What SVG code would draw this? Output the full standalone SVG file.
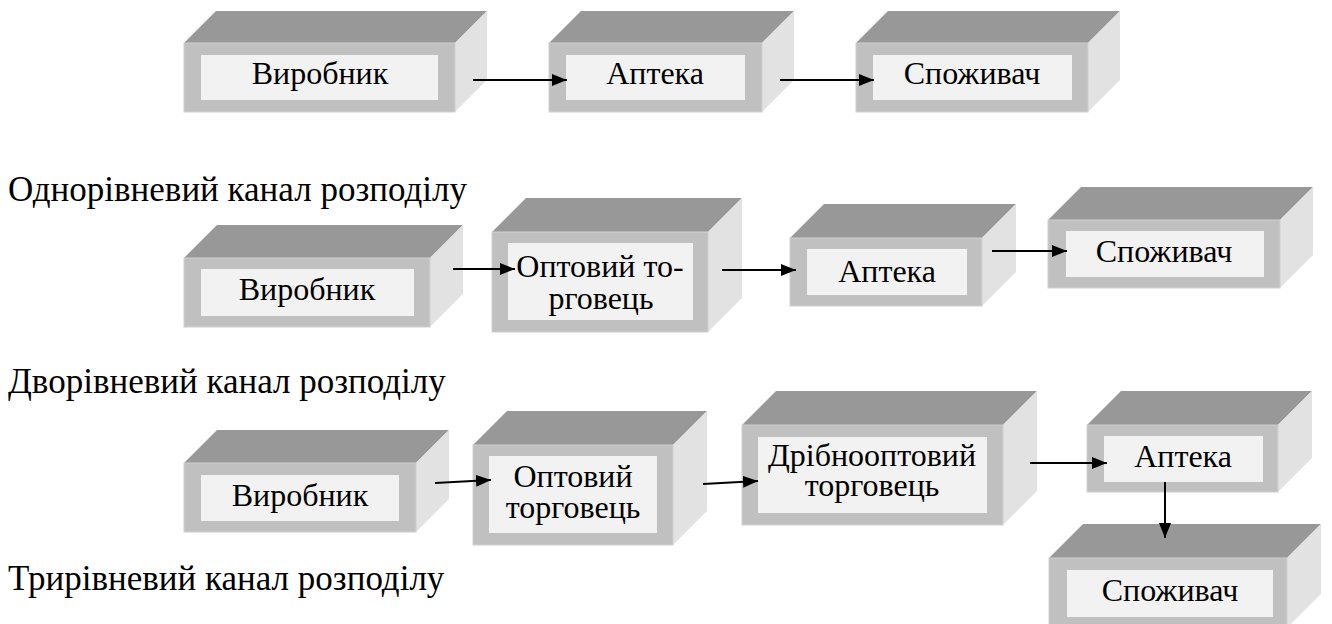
<svg xmlns="http://www.w3.org/2000/svg" width="1332" height="624" viewBox="0 0 1332 624" xml:lang="uk" lang="uk">
<defs>
<style>
.top{fill:#989898}
.side{fill:#e2e2e2}
.front{fill:#c0c0c0;stroke:#d0d0d0;stroke-width:1}
.inner{fill:#f2f2f2}
.c{stroke:#000;stroke-width:2;fill:none;marker-end:url(#ah)}
</style>
<marker id="ah" markerUnits="userSpaceOnUse" markerWidth="15" markerHeight="12" refX="15" refY="6" orient="auto">
<path d="M0,0 L15,6 L0,12 z" fill="#000"/>
</marker>
</defs>
<rect width="1332" height="624" fill="#fff"/>

<g id="labels">
<text font-family="Times New Roman" font-size="35" x="8" y="201">Однорівневий канал розподілу</text>
<text font-family="Times New Roman" font-size="35" x="8" y="393">Дворівневий канал розподілу</text>
<text font-family="Times New Roman" font-size="35" x="8" y="590">Трирівневий канал розподілу</text>
</g>

<g id="r1-vyrobnyk">
<polygon class="top" points="184,43 216,11 487,11 455,43"/>
<polygon class="side" points="455,43 487,11 487,80 455,112"/>
<rect class="front" x="184" y="43" width="271" height="69"/>
<rect class="inner" x="201" y="55" width="237" height="45"/>
<text font-family="Times New Roman" font-size="32" text-anchor="middle" x="320" y="84">Виробник</text>
</g>
<g id="r1-apteka">
<polygon class="top" points="549,43 581,11 794,11 762,43"/>
<polygon class="side" points="762,43 794,11 794,80 762,112"/>
<rect class="front" x="549" y="43" width="213" height="69"/>
<rect class="inner" x="566" y="55" width="179" height="45"/>
<text font-family="Times New Roman" font-size="32" text-anchor="middle" x="655" y="84">Аптека</text>
</g>
<g id="r1-spozhyvach">
<polygon class="top" points="856,43 888,11 1120,11 1088,43"/>
<polygon class="side" points="1088,43 1120,11 1120,80 1088,112"/>
<rect class="front" x="856" y="43" width="232" height="69"/>
<rect class="inner" x="873" y="55" width="199" height="45"/>
<text font-family="Times New Roman" font-size="32" text-anchor="middle" x="972" y="84">Споживач</text>
</g>

<g id="r2-vyrobnyk">
<polygon class="top" points="184,258 217,225 463,225 430,258"/>
<polygon class="side" points="430,258 463,225 463,294 430,327"/>
<rect class="front" x="184" y="258" width="246" height="69"/>
<rect class="inner" x="201" y="269" width="213" height="47"/>
<text font-family="Times New Roman" font-size="32" text-anchor="middle" x="307" y="300">Виробник</text>
</g>
<g id="r2-optovyi">
<polygon class="top" points="492,232 526,198 742,198 708,232"/>
<polygon class="side" points="708,232 742,198 742,298 708,332"/>
<rect class="front" x="492" y="232" width="216" height="100"/>
<rect class="inner" x="508" y="243" width="185" height="77"/>
<text font-family="Times New Roman" font-size="32" text-anchor="middle" x="600" y="277">Оптовий то-</text>
<text font-family="Times New Roman" font-size="32" text-anchor="middle" x="601" y="309">рговець</text>
</g>
<g id="r2-apteka">
<polygon class="top" points="790,238 824,204 1016,204 982,238"/>
<polygon class="side" points="982,238 1016,204 1016,272 982,306"/>
<rect class="front" x="790" y="238" width="192" height="68"/>
<rect class="inner" x="807" y="249" width="160" height="46"/>
<text font-family="Times New Roman" font-size="32" text-anchor="middle" x="887" y="282">Аптека</text>
</g>
<g id="r2-spozhyvach">
<polygon class="top" points="1048,220 1081,187 1313,187 1280,220"/>
<polygon class="side" points="1280,220 1313,187 1313,255 1280,288"/>
<rect class="front" x="1048" y="220" width="232" height="68"/>
<rect class="inner" x="1066" y="231" width="198" height="46"/>
<text font-family="Times New Roman" font-size="32" text-anchor="middle" x="1164" y="262">Споживач</text>
</g>

<g id="r3-vyrobnyk">
<polygon class="top" points="184,463 217,430 449,430 416,463"/>
<polygon class="side" points="416,463 449,430 449,499 416,532"/>
<rect class="front" x="184" y="463" width="232" height="69"/>
<rect class="inner" x="201" y="475" width="198" height="46"/>
<text font-family="Times New Roman" font-size="32" text-anchor="middle" x="300" y="506">Виробник</text>
</g>
<g id="r3-optovyi">
<polygon class="top" points="473,445 507,411 707,411 673,445"/>
<polygon class="side" points="673,445 707,411 707,511 673,545"/>
<rect class="front" x="473" y="445" width="200" height="100"/>
<rect class="inner" x="489" y="456" width="168" height="77"/>
<text font-family="Times New Roman" font-size="32" text-anchor="middle" x="573" y="487">Оптовий</text>
<text font-family="Times New Roman" font-size="32" text-anchor="middle" x="573" y="518">торговець</text>
</g>
<g id="r3-dribno">
<polygon class="top" points="742,425 776,391 1037,391 1003,425"/>
<polygon class="side" points="1003,425 1037,391 1037,491 1003,525"/>
<rect class="front" x="742" y="425" width="261" height="100"/>
<rect class="inner" x="758" y="437" width="229" height="76"/>
<text font-family="Times New Roman" font-size="32" text-anchor="middle" x="872" y="466">Дрібнооптовий</text>
<text font-family="Times New Roman" font-size="32" text-anchor="middle" x="872" y="496">торговець</text>
</g>
<g id="r3-apteka">
<polygon class="top" points="1087,425 1121,391 1312,391 1278,425"/>
<polygon class="side" points="1278,425 1312,391 1312,458 1278,492"/>
<rect class="front" x="1087" y="425" width="191" height="67"/>
<rect class="inner" x="1104" y="436" width="159" height="46"/>
<text font-family="Times New Roman" font-size="32" text-anchor="middle" x="1183" y="467">Аптека</text>
</g>
<g id="r3-spozhyvach">
<polygon class="top" points="1049,558 1083,524 1321,524 1287,558"/>
<polygon class="side" points="1287,558 1321,524 1321,594 1287,628"/>
<rect class="front" x="1049" y="558" width="238" height="70"/>
<rect class="inner" x="1067" y="570" width="206" height="47"/>
<text font-family="Times New Roman" font-size="32" text-anchor="middle" x="1170" y="601">Споживач</text>
</g>

<g id="connectors">
<line class="c" x1="473" y1="80" x2="567" y2="80"/>
<line class="c" x1="780" y1="80" x2="874" y2="80"/>
<line class="c" x1="453" y1="269" x2="515" y2="269"/>
<line class="c" x1="722" y1="270" x2="796" y2="270"/>
<line class="c" x1="992" y1="251" x2="1067" y2="251"/>
<line class="c" x1="435" y1="483" x2="491" y2="480"/>
<line class="c" x1="703" y1="484" x2="758" y2="481"/>
<line class="c" x1="1030" y1="463" x2="1107" y2="463"/>
<line class="c" x1="1165" y1="482" x2="1165" y2="538"/>
</g>
</svg>
